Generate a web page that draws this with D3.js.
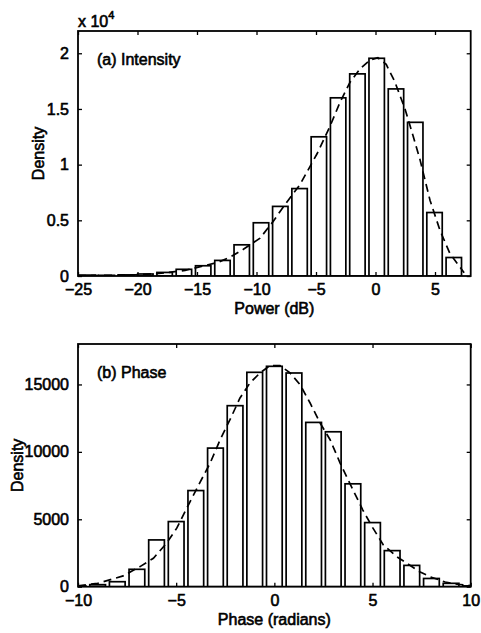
<!DOCTYPE html>
<html>
<head>
<meta charset="utf-8">
<script src="https://cdn.jsdelivr.net/npm/d3@7"></script>
<style>
  html, body { margin: 0; padding: 0; background: #fff; }
  svg { display: block; }
  text { font-family: "Liberation Sans", Arial, Helvetica, sans-serif; fill: #000; }
</style>
</head>
<body>
<svg id="chart" width="481" height="633"></svg>
<script>
// ---------- DATA ----------
// (a) Intensity: histogram bin centres (dB) and densities (x 10^4)
const intensityBins = [-24.2, -22.58, -20.96, -19.34, -17.72, -16.1, -14.48, -12.86, -11.24, -9.62,
                       -8.0, -6.38, -4.76, -3.14, -1.52, 0.1, 1.72, 3.34, 4.96, 6.58];
const intensityDensity = [0.008, 0.006, 0.01, 0.018, 0.032, 0.06, 0.092, 0.14, 0.28, 0.478,
                          0.625, 0.785, 1.25, 1.6, 1.815, 1.955, 1.68, 1.38, 0.57, 0.166];
// (a) fitted curve (dashed)
const intensityCurveX = [-25, -22, -20, -18, -16, -14.5, -13.3, -12.2, -11.1, -9.7, -8.6, -7.75, -6.35,
                         -4.9, -3.8, -2.98, -2.14, -1.3, -0.46, 0.2, 0.9, 1.6, 2.48, 3.18, 3.74, 4.58, 5.42, 6.26, 7.45];
const intensityCurveY = [0.003, 0.006, 0.012, 0.025, 0.05, 0.09, 0.12, 0.17, 0.24, 0.34, 0.49, 0.62, 0.82,
                         1.1, 1.35, 1.56, 1.74, 1.86, 1.94, 1.96, 1.9, 1.75, 1.5, 1.25, 1.045, 0.68, 0.41, 0.2, 0.03];
const intensityXTicks = [-25, -20, -15, -10, -5, 0, 5];
const intensityYTicks = [0, 0.5, 1, 1.5, 2];

// (b) Phase: histogram bin centres (radians) and densities
const phaseBins = [-10, -9, -8, -7, -6, -5, -4, -3, -2, -1, 0, 1, 2, 3, 4, 5, 6, 7, 8, 9, 10];
const phaseDensity = [60, 150, 370, 1290, 3470, 4830, 7130, 10280, 13425, 15900, 16345,
                      15850, 12185, 11490, 7630, 4755, 2675, 1580, 610, 250, 60];
// (b) fitted curve (dashed)
const phaseCurveX = [-10, -9, -8.7, -7.7, -6.84, -6.16, -5.5, -4.97, -4.4, -3.8, -3.27, -2.76, -2.26, -1.75,
                     -1.24, -0.73, -0.22, 0.29, 0.8, 1.31, 1.82, 2.33, 2.84, 3.35, 3.9, 4.5, 5.0, 5.55, 6.23,
                     7.4, 8.0, 8.7, 9.3, 10];
const phaseCurveY = [60, 250, 370, 800, 1490, 2110, 3200, 4340, 6000, 7700, 9170, 10900, 12385, 14000,
                     15110, 15855, 16400, 16400, 15855, 14985, 13625, 12140, 10900, 9170, 7500, 5700, 4400,
                     3100, 2230, 1115, 700, 350, 180, 80];
const phaseXTicks = [-10, -5, 0, 5, 10];
const phaseYTicks = [0, 5000, 10000, 15000];

// ---------- DRAWING ----------
const svg = d3.select("#chart");
const FONT = 16;
const TICK = 4;
const TSTROKE = 0.6;

function panel(opts) {
  const { left, right, top, bottom, xDomain, yDomain, bins, binWidth, values,
          curveX, curveY, xTicks, yTicks, yFmt, xLabel, yLabelX, title, id } = opts;
  const x = d3.scaleLinear().domain(xDomain).range([left, right]);
  const y = d3.scaleLinear().domain(yDomain).range([bottom, top]);
  const g = svg.append("g");

  g.append("clipPath").attr("id", id).append("rect")
    .attr("x", left).attr("y", top).attr("width", right - left).attr("height", bottom - top);

  const plot = g.append("g").attr("clip-path", `url(#${id})`);
  const bw = binWidth * 0.8;
  plot.selectAll("rect.bar").data(bins).enter().append("rect")
    .attr("class", "bar")
    .attr("x", (d) => x(d - bw / 2))
    .attr("width", (d) => x(d + bw / 2) - x(d - bw / 2))
    .attr("y", (d, i) => y(values[i]))
    .attr("height", (d, i) => y(0) - y(values[i]))
    .attr("fill", "#fff").attr("stroke", "#000").attr("stroke-width", 1.7);

  const line = d3.line().x((d) => x(d[0])).y((d) => y(d[1]));
  plot.append("path")
    .datum(curveX.map((v, i) => [v, curveY[i]]))
    .attr("d", line)
    .attr("fill", "none").attr("stroke", "#000").attr("stroke-width", 1.7)
    .attr("stroke-dasharray", "8,5");

  // axes with inward ticks on all four sides
  const axB = g.append("g").attr("transform", `translate(0,${bottom})`)
    .call(d3.axisBottom(x).tickValues(xTicks).tickSizeInner(-TICK).tickSizeOuter(0)
      .tickPadding(8).tickFormat(d3.format("")));
  const axT = g.append("g").attr("transform", `translate(0,${top})`)
    .call(d3.axisTop(x).tickValues(xTicks).tickSizeInner(-TICK).tickSizeOuter(0).tickFormat(""));
  const axL = g.append("g").attr("transform", `translate(${left},0)`)
    .call(d3.axisLeft(y).tickValues(yTicks).tickSizeInner(-TICK).tickSizeOuter(0)
      .tickPadding(9).tickFormat(yFmt));
  const axR = g.append("g").attr("transform", `translate(${right},0)`)
    .call(d3.axisRight(y).tickValues(yTicks).tickSizeInner(-TICK).tickSizeOuter(0).tickFormat(""));
  [axB, axT, axL, axR].forEach((a) => {
    a.select(".domain").remove();
    a.selectAll("line").attr("stroke", "#000").attr("stroke-width", 1.3);
    a.selectAll("text").attr("font-size", FONT).attr("font-family", null)
      .style("font-family", '"Liberation Sans", Arial, sans-serif')
      .attr("stroke", "#000").attr("stroke-width", TSTROKE).attr("fill", "#000");
  });
  axB.selectAll("text").attr("dy", "0.71em");

  g.append("rect").attr("x", left).attr("y", top)
    .attr("width", right - left).attr("height", bottom - top)
    .attr("fill", "none").attr("stroke", "#000").attr("stroke-width", 1.8);

  const txt = (sel) => sel.attr("font-size", FONT).attr("stroke", "#000").attr("stroke-width", TSTROKE);

  g.append("text").attr("x", (left + right) / 2).attr("y", bottom + 38)
    .attr("text-anchor", "middle").text(xLabel).call(txt);
  g.append("text")
    .attr("transform", `translate(${yLabelX},${(top + bottom) / 2}) rotate(-90)`)
    .attr("text-anchor", "middle").text("Density").call(txt);
  g.append("text").attr("x", left + 19).attr("y", top + 34).text(title).call(txt);
  return { x, y };
}

panel({
  id: "clipA", left: 78, right: 470.7, top: 31, bottom: 276,
  xDomain: [-25, 8], yDomain: [0, 2.2],
  bins: intensityBins, binWidth: 1.62, values: intensityDensity,
  curveX: intensityCurveX, curveY: intensityCurveY,
  xTicks: intensityXTicks, yTicks: intensityYTicks, yFmt: d3.format(""),
  xLabel: "Power (dB)", yLabelX: 44, title: "(a) Intensity"
});

// x 10^4 multiplier
const mult = svg.append("text").attr("x", 78).attr("y", 27).attr("font-size", FONT)
  .attr("stroke", "#000").attr("stroke-width", TSTROKE);
mult.append("tspan").text("x 10");
mult.append("tspan").attr("font-size", 11).attr("dy", -8).text("4");

panel({
  id: "clipB", left: 78, right: 470.7, top: 344, bottom: 586.7,
  xDomain: [-10, 10], yDomain: [0, 18000],
  bins: phaseBins, binWidth: 1, values: phaseDensity,
  curveX: phaseCurveX, curveY: phaseCurveY,
  xTicks: phaseXTicks, yTicks: phaseYTicks, yFmt: d3.format("d"),
  xLabel: "Phase (radians)", yLabelX: 23, title: "(b) Phase"
});
</script>
</body>
</html>
